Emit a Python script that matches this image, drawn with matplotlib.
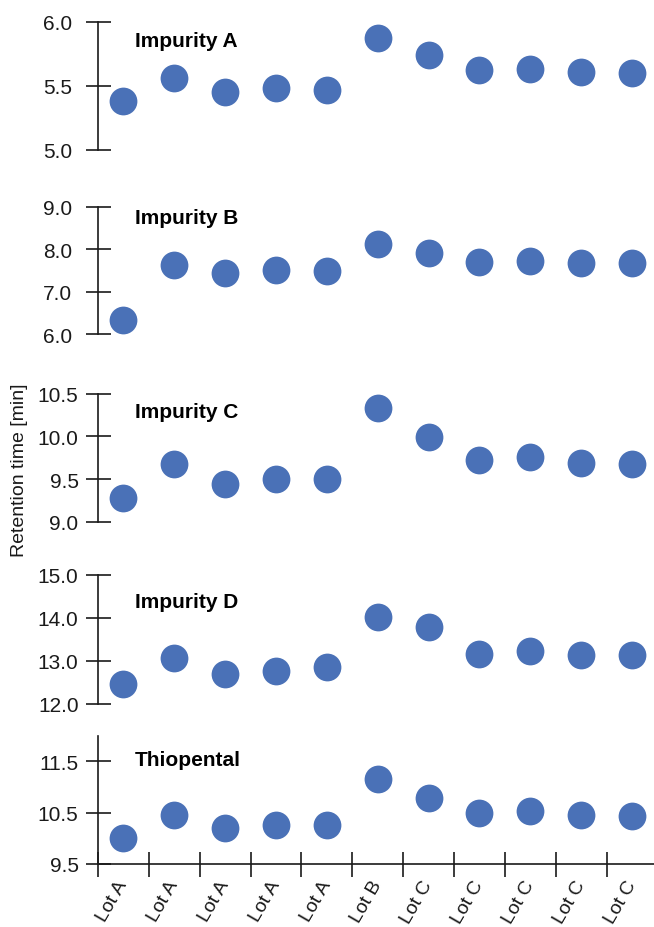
import numpy as np
import matplotlib
matplotlib.use("Agg")
import matplotlib.pyplot as plt

plt.rcParams["font.family"] = ["Liberation Sans", "DejaVu Sans"]

# ── data ───────────────────────────────────────────────────────────────────────
lots = ["Lot A", "Lot A", "Lot A", "Lot A", "Lot A", "Lot B",
        "Lot C", "Lot C", "Lot C", "Lot C", "Lot C"]

impurity_a = [5.38, 5.56, 5.45, 5.48, 5.47, 5.87, 5.74, 5.62, 5.63, 5.61, 5.60]
impurity_b = [6.33, 7.63, 7.45, 7.51, 7.50, 8.13, 7.90, 7.70, 7.72, 7.67, 7.67]
impurity_c = [9.28, 9.68, 9.44, 9.50, 9.50, 10.33, 9.99, 9.72, 9.76, 9.69, 9.68]
impurity_d = [12.45, 13.06, 12.69, 12.77, 12.85, 14.01, 13.79, 13.17, 13.24, 13.13, 13.14]
thiopental = [10.00, 10.45, 10.20, 10.25, 10.26, 11.16, 10.79, 10.49, 10.53, 10.46, 10.44]

names = ["Impurity A", "Impurity B", "Impurity C", "Impurity D", "Thiopental"]
series = [impurity_a, impurity_b, impurity_c, impurity_d, thiopental]
ylims = [(5.0, 6.0), (6.0, 9.0), (9.0, 10.5), (12.0, 15.0), (9.5, 12.0)]
yticks = [[5.0, 5.5, 6.0], [6.0, 7.0, 8.0, 9.0], [9.0, 9.5, 10.0, 10.5],
          [12.0, 13.0, 14.0, 15.0], [9.5, 10.5, 11.5]]

# ── layout (pixels, top-down) ──────────────────────────────────────────────────
W, H = 654, 928
panels_px = [(22.7, 150.7), (207.7, 335.3), (394.7, 523.0), (576.0, 704.7), (736.7, 864.7)]
title_top_px = [32, 208.5, 403.5, 593.5, 751]
label_pad = [9.5, 9.5, 5, 5, 5]
LEFT, RIGHT = 98, 657.4

DOT = "#4a71b7"
INK = "#1a1a1a"

fig = plt.figure(figsize=(W / 100, H / 100), dpi=100)
x = np.arange(len(lots))

for k, (name, vals) in enumerate(zip(names, series)):
    top, bot = panels_px[k]
    ax = fig.add_axes([LEFT / W, 1 - bot / H, (RIGHT - LEFT) / W, (bot - top) / H])
    ax.plot(x, vals, "o", color=DOT, markersize=20, markeredgewidth=0, clip_on=False)
    ax.set_xlim(-0.5, 10.5)
    ax.set_ylim(*ylims[k])
    ax.set_yticks(yticks[k])
    ax.set_yticklabels([f"{t:.1f}" for t in yticks[k]])
    for s in ["top", "right"]:
        ax.spines[s].set_visible(False)
    ax.spines["left"].set_color(INK)
    ax.spines["left"].set_linewidth(1.2)
    ax.tick_params(axis="y", direction="inout", length=18, width=1.2, color=INK,
                   labelsize=15, pad=label_pad[k], labelcolor=INK)
    ax.set_facecolor("none")

    fig.text(135 / W, 1 - title_top_px[k] / H, name, fontsize=15, fontweight="bold",
             ha="left", va="top", color="black")

    if k < len(names) - 1:
        ax.spines["bottom"].set_visible(False)
        ax.set_xticks([])
    else:
        ax.spines["bottom"].set_color(INK)
        ax.spines["bottom"].set_linewidth(1.2)
        ax.set_xticks(np.arange(-0.5, 10.5, 1.0))
        ax.set_xticklabels([])
        ax.tick_params(axis="x", which="major", direction="inout", length=18,
                       width=1.2, color=INK)
        ax.set_xticks(x, minor=True)
        ax.set_xticklabels(lots, minor=True, rotation=60, ha="right", va="center",
                           rotation_mode="anchor", fontsize=14, color=INK)
        ax.tick_params(axis="x", which="minor", length=0, pad=12.5)

fig.text(20 / W, 1 - 470 / H, "Retention time [min]", rotation=90, fontsize=14,
         ha="center", va="center", color=INK)

fig.savefig("out.png", dpi=100)
